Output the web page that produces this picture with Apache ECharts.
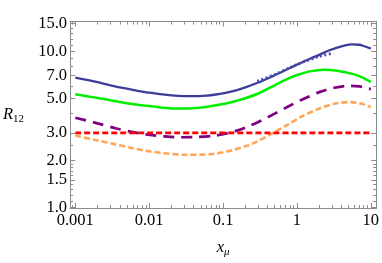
<!DOCTYPE html>
<html><head><meta charset="utf-8">
<script src="https://cdn.jsdelivr.net/npm/echarts@6/dist/echarts.min.js"></script>
<style>html,body{margin:0;padding:0;background:#fff}#c{width:382px;height:263px}</style>
</head><body><div id="c"></div>
<script>
// ---- data ----
const blueX   = [0.001, 0.0015, 0.002, 0.003, 0.005, 0.007, 0.01, 0.015, 0.02, 0.03, 0.04, 0.06, 0.08, 0.1, 0.15, 0.2, 0.3, 0.45, 0.6, 0.8, 1, 1.5, 2, 2.7, 3.5, 4.5, 5.5, 7, 8, 10];
const blueY   = [6.77, 6.52, 6.33, 6.05, 5.75, 5.58, 5.42, 5.29, 5.22, 5.16, 5.15, 5.2, 5.28, 5.37, 5.62, 5.87, 6.3, 6.85, 7.3, 7.8, 8.2, 8.95, 9.48, 10.1, 10.55, 10.9, 11.05, 11.0, 10.8, 10.4];
const dotX    = [0.29, 0.5, 0.8, 1.2, 2, 3.1];
const dotY    = [6.42, 7.1, 7.85, 8.5, 9.25, 9.72];
const greenX  = [0.001, 0.0015, 0.002, 0.003, 0.005, 0.007, 0.01, 0.015, 0.022, 0.035, 0.055, 0.08, 0.1, 0.136, 0.2, 0.3, 0.5, 0.76, 1, 1.5, 2.3, 3.5, 5.8, 8, 10];
const greenY  = [5.30, 5.13, 5.02, 4.85, 4.64, 4.54, 4.45, 4.35, 4.30, 4.30, 4.37, 4.50, 4.59, 4.75, 5.0, 5.36, 6.05, 6.68, 7.04, 7.43, 7.61, 7.5, 7.13, 6.73, 6.35];
const purpleX = [0.001, 0.002, 0.0035, 0.006, 0.0097, 0.016, 0.027, 0.045, 0.074, 0.1, 0.15, 0.2, 0.3, 0.5, 0.76, 1.2, 2.1, 3.2, 5, 7, 10];
const purpleY = [3.75, 3.45, 3.21, 3.03, 2.92, 2.85, 2.81, 2.82, 2.87, 2.94, 3.09, 3.24, 3.52, 3.98, 4.42, 4.93, 5.51, 5.83, 6.0, 5.95, 5.72];
const orangeX = [0.001, 0.002, 0.0035, 0.006, 0.0097, 0.016, 0.03, 0.05, 0.074, 0.1, 0.136, 0.2, 0.276, 0.45, 0.76, 1.2, 2.1, 3.3, 5.24, 7.5, 10];
const orangeY = [2.88, 2.68, 2.53, 2.39, 2.29, 2.22, 2.17, 2.175, 2.20, 2.25, 2.33, 2.46, 2.61, 2.95, 3.40, 3.85, 4.33, 4.62, 4.72, 4.6, 4.39];
const redX    = [0.001, 10];
const redY    = [3, 3];

const xTickValues = [0.001, 0.01, 0.1, 1, 10];
const xTickLabels = ['0.001', '0.01', '0.1', '1', '10'];
const xMinorValues = [];
for (let d = -4; d <= 1; d++) for (let k = 2; k <= 9; k++) xMinorValues.push(k * Math.pow(10, d));
const yTickValues = [1, 1.5, 2, 3, 5, 7, 10, 15];
const yTickLabels = ['1.0', '1.5', '2.0', '3.0', '5.0', '7.0', '10.0', '15.0'];
const yMinorValues = [1.1, 1.2, 1.3, 1.4, 1.6, 1.7, 1.8, 1.9, 2.5, 4, 6, 8, 9, 11, 12, 13, 14];

const xRange = [0.00085, 11.8];
const yRange = [0.99, 15.5];

// ---- build ----
const L = Math.log10;
const pts = (xs, ys) => xs.map((x, i) => [L(x), L(ys[i])]);
const lab = (vals, labels) => v => {
  let best = 0, bd = 1e9;
  vals.forEach((t, i) => { const d = Math.abs(L(t) - v); if (d < bd) { bd = d; best = i; } });
  return labels[best];
};
const frame = '#8c8c8c';
const font = 'Liberation Serif';
const fs = 16.5;

function mkX(pos, vals, len, labels) {
  return {
    type: 'value', position: pos, min: L(xRange[0]), max: L(xRange[1]),
    axisLine: { show: true, onZero: false, lineStyle: { color: frame, width: 1 } },
    axisTick: { show: true, inside: true, length: len, customValues: vals.map(L), lineStyle: { color: frame, width: 1 } },
    axisLabel: labels ? { show: true, customValues: xTickValues.map(L), formatter: lab(xTickValues, xTickLabels),
      color: '#000', fontFamily: font, fontSize: fs, margin: 4 } : { show: false },
    splitLine: { show: false },
    name: labels ? '{i|x}{s|μ}' : '', nameLocation: 'middle', nameGap: 30,
    nameTextStyle: { rich: { i: { fontFamily: font, fontStyle: 'italic', fontSize: fs, color: '#000' },
      s: { fontFamily: font, fontStyle: 'italic', fontSize: 11, color: '#000', padding: [9, 0, 0, 0] } } }
  };
}
function mkY(pos, vals, len, labels) {
  return {
    type: 'value', position: pos, min: L(yRange[0]), max: L(yRange[1]),
    axisLine: { show: true, onZero: false, lineStyle: { color: frame, width: 1 } },
    axisTick: { show: true, inside: true, length: len, customValues: vals.map(L), lineStyle: { color: frame, width: 1 } },
    axisLabel: labels ? { show: true, customValues: yTickValues.map(L), formatter: lab(yTickValues, yTickLabels),
      color: '#000', fontFamily: font, fontSize: fs, margin: 3 } : { show: false },
    splitLine: { show: false },
    name: labels ? '{i|R}{s|12}' : '', nameLocation: 'middle', nameGap: 46, nameRotate: 0,
    nameTextStyle: { rich: { i: { fontFamily: font, fontStyle: 'italic', fontSize: fs, color: '#000' },
      s: { fontFamily: font, fontSize: 11, color: '#000', padding: [8, 0, 0, 0] } } }
  };
}

function line(xs, ys, color, width, type) {
  return { type: 'line', data: pts(xs, ys), smooth: 0.3, showSymbol: false, symbol: 'none',
    lineStyle: { color, width, type }, xAxisIndex: 0, yAxisIndex: 0, z: 3, silent: true, animation: false };
}

const chart = echarts.init(document.getElementById('c'), null, { renderer: 'canvas' });
chart.setOption({
  animation: false,
  backgroundColor: '#fff',
  grid: { left: 63.5, right: 5, top: 21.5, bottom: 52, containLabel: false },
  xAxis: [
    mkX('bottom', xTickValues, 5, true), mkX('bottom', xMinorValues, 3, false),
    mkX('top', xTickValues, 5, false), mkX('top', xMinorValues, 3, false)
  ],
  yAxis: [
    mkY('left', yTickValues, 5, true), mkY('left', yMinorValues, 3, false),
    mkY('right', yTickValues, 5, false), mkY('right', yMinorValues, 3, false)
  ],
  series: [
    line(orangeX, orangeY, '#ffa756', 2.6, [6, 3]),
    line(purpleX, purpleY, '#800080', 2.7, [11, 7]),
    line(greenX, greenY, '#00ee00', 2.5, 'solid'),
    line(blueX, blueY, '#3d3d99', 2.3, 'solid'),
    line(dotX, dotY, '#4b4bb0', 2.7, [2, 2.5]),
    line(redX, redY, '#ff0000', 2.6, [6, 3])
  ]
});
</script></body></html>
